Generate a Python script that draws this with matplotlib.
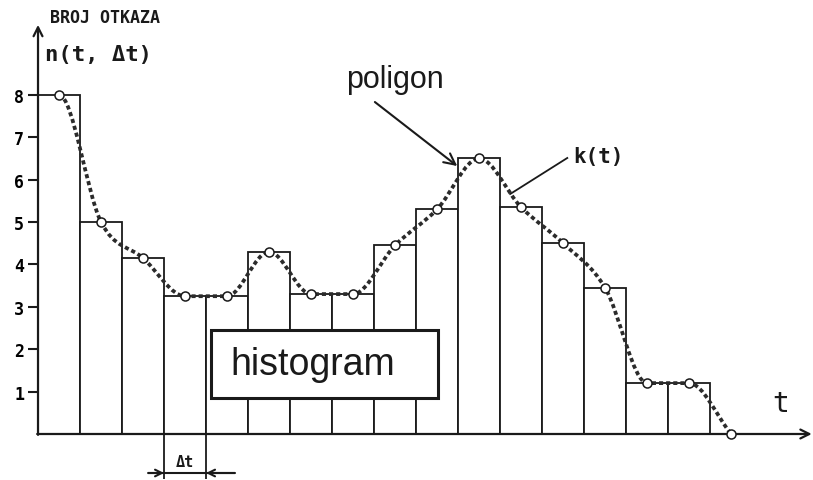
import numpy as np
import matplotlib
matplotlib.use("Agg")
import matplotlib.pyplot as plt
from matplotlib.path import Path
from matplotlib.patches import PathPatch, Rectangle

# broj otkaza n(t, Δt) po intervalima
heights = [8, 5, 4.15, 3.25, 3.25, 4.3, 3.3, 3.3, 4.45, 5.3, 6.5, 5.35, 4.5, 3.45, 1.2, 1.2]
y_ticks = [1, 2, 3, 4, 5, 6, 7, 8]
dt_bin = 3  # interval oznacen sa Δt

MONO = "DejaVu Sans Mono"
SANS = "Liberation Sans"
INK = "#1a1a1a"


def smooth_path(x, y):
    """glatka kriva k(t) kroz tacke poligona (monotone tangente)"""
    d = np.diff(y) / np.diff(x)
    m = np.zeros(len(y))
    for i in range(1, len(y) - 1):
        if d[i - 1] * d[i] > 0:
            m[i] = (d[i - 1] + d[i]) / 2
    m[-1] = d[-1]
    verts = [(x[0], y[0])]
    codes = [Path.MOVETO]
    for i in range(len(x) - 1):
        h = x[i + 1] - x[i]
        verts += [(x[i] + h / 3, y[i] + m[i] * h / 3),
                  (x[i + 1] - h / 3, y[i + 1] - m[i + 1] * h / 3),
                  (x[i + 1], y[i + 1])]
        codes += [Path.CURVE4] * 3
    return Path(verts, codes)


fig = plt.figure(figsize=(8.13, 4.81), dpi=100)
ax = fig.add_axes([0, 0, 1, 1])
ax.set_xlim(-0.905, 18.45)
ax.set_ylim(-1.085, 10.26)

# histogram
edges = np.arange(len(heights))
ax.bar(edges, heights, width=1, align="edge", facecolor="white",
       edgecolor=INK, linewidth=1.3, zorder=2)

# poligon / k(t)
px = np.append(edges + 0.5, len(heights) + 0.5)
py = np.append(heights, 0)
ax.add_patch(PathPatch(smooth_path(px, py), fill=False, edgecolor="#2b2b2b",
                       linewidth=2.7, linestyle=(0, (1.1, 0.8)), zorder=4))
ax.plot(px, py, "o", ms=6.5, mfc="white", mec=INK, mew=1.1, zorder=5)

# ose
for s in ax.spines.values():
    s.set_visible(False)
ax.spines["left"].set_position(("data", 0))
ax.set_xticks([])
ax.set_yticks(y_ticks)
ax.yaxis.set_ticks_position("left")
ax.tick_params(axis="y", direction="out", length=7, width=1.5, color=INK,
               labelsize=12, pad=3)
for lab in ax.get_yticklabels():
    lab.set_fontfamily(MONO)
    lab.set_fontweight("bold")

arr = dict(arrowstyle="->", lw=1.6, color=INK, shrinkA=0, shrinkB=0, mutation_scale=16)
ax.annotate("", xy=(0, 9.65), xytext=(0, -0.02), arrowprops=arr, annotation_clip=False)
ax.annotate("", xy=(18.42, 0), xytext=(-0.02, 0), arrowprops=arr, annotation_clip=False)

# natpis histogram
ax.add_patch(Rectangle((4.12, 0.85), 5.4, 1.6, facecolor="white", edgecolor=INK,
                       linewidth=2.2, zorder=3))
ax.text(6.55, 1.65, "histogram", family=SANS, fontsize=27, color=INK,
        ha="center", va="center", zorder=6)

# Δt oznaka
ax.vlines([dt_bin, dt_bin + 1], -1.05, 0, color=INK, lw=1.3, zorder=2)
ax.hlines(-0.92, 2.62, 4.69, color=INK, lw=1.5)
dim = dict(arrowstyle="->", lw=1.5, color=INK, shrinkA=0, shrinkB=0, mutation_scale=12)
ax.annotate("", xy=(dt_bin, -0.92), xytext=(2.62, -0.92), arrowprops=dim, annotation_clip=False)
ax.annotate("", xy=(dt_bin + 1, -0.92), xytext=(4.69, -0.92), arrowprops=dim, annotation_clip=False)
ax.text(dt_bin + 0.5, -0.64, "Δt", family=MONO, fontweight="bold", fontsize=11,
        color=INK, ha="center", va="center")

# tekstovi
ax.text(0.29, 9.83, "BROJ OTKAZA", family=MONO, fontweight="bold", fontsize=12,
        color=INK, ha="left", va="center")
ax.text(0.17, 8.96, "n(t, Δt)", family=MONO, fontweight="bold", fontsize=16,
        color=INK, ha="left", va="center")
ax.text(8.5, 8.18, "poligon", family=SANS, fontsize=22, color=INK,
        ha="center", va="baseline")
ax.annotate("", xy=(9.98, 6.32), xytext=(8.02, 7.83),
            arrowprops=dict(arrowstyle="->", lw=1.5, color=INK, shrinkA=0, shrinkB=0,
                            mutation_scale=20))
ax.text(12.74, 6.56, "k(t)", family=MONO, fontweight="bold", fontsize=15,
        color=INK, ha="left", va="center")
ax.plot([12.6, 11.24], [6.51, 5.66], color=INK, lw=1.3)
ax.text(17.67, 0.73, "t", family=MONO, fontsize=20, color=INK,
        ha="center", va="center")

fig.savefig("out.png", dpi=100)
